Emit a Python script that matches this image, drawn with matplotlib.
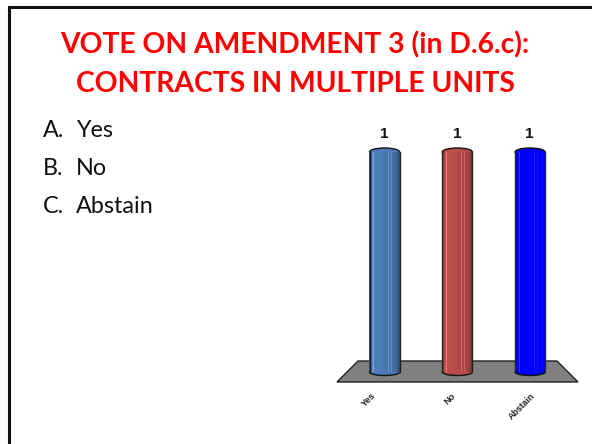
import numpy as np
import matplotlib
matplotlib.use("Agg")
import matplotlib.pyplot as plt
from matplotlib.patches import Ellipse, Polygon
from matplotlib.colors import to_rgb

title_lines = ["VOTE ON AMENDMENT 3 (in D.6.c):", "CONTRACTS IN MULTIPLE UNITS"]
option_letters = ["A.", "B.", "C."]
option_words = ["Yes", "No", "Abstain"]
categories = ["Yes", "No", "Abstain"]
values = [1, 1, 1]
colors = ["#4F81BD", "#C0504D", "#0000FF"]

W, H = 592, 444
fig = plt.figure(figsize=(W / 100, H / 100), dpi=100, facecolor="white")
bg = fig.add_axes([0, 0, 1, 1])
bg.set_xlim(0, W); bg.set_ylim(H, 0); bg.axis("off")
bg.plot([8.5, 8.5, W], [H, 7.5, 7.5], color="#111111", lw=2.2, solid_joinstyle="miter")
FONT = ["Lato", "DejaVu Sans"]
for y, t in zip((45, 84), title_lines):
    bg.text(295, y, t, color="#FF0000", fontsize=20.3, fontweight="bold",
            ha="center", va="center", family=FONT)
for y, a, t in zip((130, 168, 206), option_letters, option_words):
    bg.text(43, y, a, color="#111111", fontsize=16.8, ha="left", va="center", family=FONT)
    bg.text(76, y, t, color="#111111", fontsize=16.8, ha="left", va="center", family=FONT)

# chart axes: pixel box of the floor and bar heights
left, right, y0_px, y1_px = 337, 578, 372, 152
spacing = 72.8
ax = fig.add_axes([left / W, 1 - y0_px / H, (right - left) / W, (y0_px - y1_px) / H])
ax.patch.set_alpha(0)
x0 = (384.5 - left) / spacing
ax.set_xlim(-x0, (right - left) / spacing - x0)
ax.set_ylim(0, 1)
ax.axis("off")
xpx = 1 / spacing
ypx = 1 / (y0_px - y1_px)

ax.add_patch(Polygon([(-x0, -10 * ypx), ((right - left) / spacing - x0, -10 * ypx),
                      ((557 - left) / spacing - x0, 11 * ypx), ((358 - left) / spacing - x0, 11 * ypx)],
                     closed=True, fc="#808080", ec="#222222", lw=1.0, clip_on=False, zorder=1))

bar_w = 30 * xpx
# light stripes and shading across each cylinder, left to right
shade = np.array([.62, .78, .88, 1.02, 1.12, 1.0, .98, .98, .98, .98, .98, .98, .96, .95, .94,
                  .92, .90, .90, .90, 1.08, .88, .88, 1.05, .86, .84, .84, .82, .78, .72, .66])
n = len(shade)
mid = (np.arange(n) + 0.5) / n - 0.5
for i, (v, c) in enumerate(zip(values, colors)):
    base = np.array(to_rgb(c))
    for m, s in zip(mid, shade):
        if c == "#0000FF":
            col = np.array([max(s - 1.0, 0) * 1.5, max(s - 1.0, 0) * 1.5, min(0.75 + s * 0.4, 1.0)])
        else:
            col = base * min(s, 1.0) + max(s - 1.0, 0) * 1.2
        ax.bar(i + m * bar_w, v, width=bar_w / n * 1.15, color=np.clip(col, 0, 1), lw=0, zorder=3, clip_on=False)
    # the caps sit behind the shaft, so only the outer half of each shows
    ax.add_patch(Ellipse((i, 0), bar_w, 7 * ypx, fc=base * .95, ec="#111111", lw=1, zorder=2, clip_on=False))
    ax.add_patch(Ellipse((i, v), bar_w, 8 * ypx, fc=base * .98, ec="#111111", lw=1, zorder=2, clip_on=False))
    ax.plot([i - bar_w / 2] * 2, [0, v], color="#222222", lw=1, zorder=5, clip_on=False)
    ax.plot([i + bar_w / 2] * 2, [0, v], color="#222222", lw=1, zorder=5, clip_on=False)
    ax.text(i - 0.5 * xpx, v + 18 * ypx, str(v), ha="center", va="center", fontsize=11,
            fontweight="bold", color="#111111", family="Liberation Sans", clip_on=False)

# category labels, rotated with their upper right end near the tick
label_anchor_px = [(-13, 19), (-6.5, 19), (0.5, 19)]
for i, c in enumerate(categories):
    ax.text(i + label_anchor_px[i][0] * xpx, -label_anchor_px[i][1] * ypx, c, rotation=45,
            ha="right", va="top", rotation_mode="anchor", fontsize=6.6, fontweight="bold",
            color="#222222", family="Liberation Sans", clip_on=False)

fig.savefig("out.png", dpi=100, facecolor="white")
